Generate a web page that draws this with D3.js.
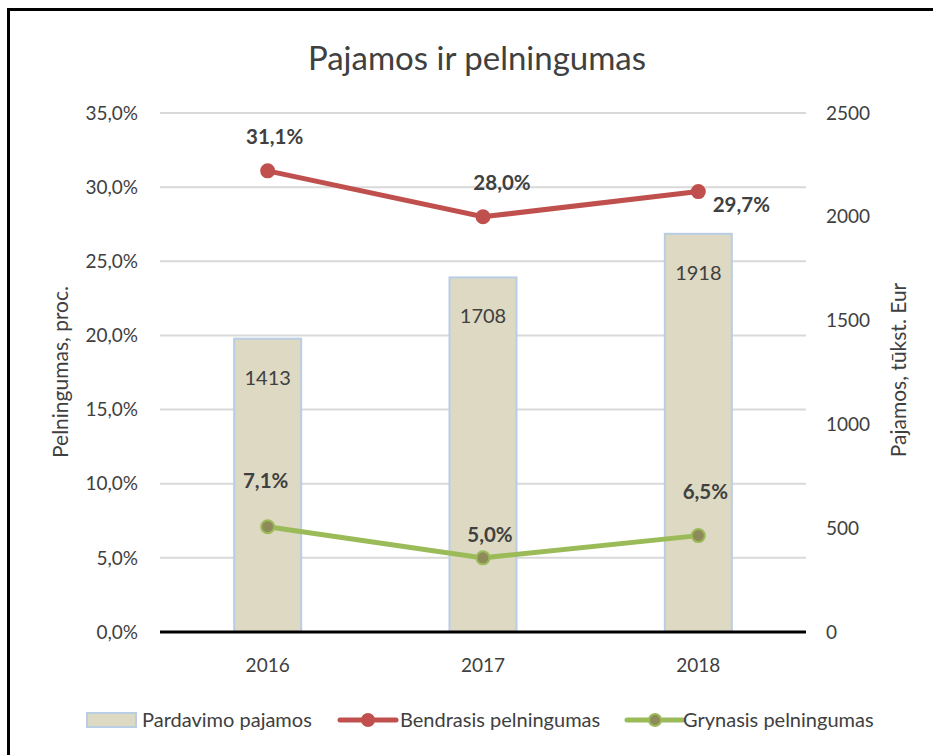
<!DOCTYPE html>
<html>
<head>
<meta charset="utf-8">
<script src="https://cdn.jsdelivr.net/npm/d3@7"></script>
<style>
  body { margin: 0; background: #fff; }
  text { font-family: Lato, "Open Sans", sans-serif; fill: #404040; }
</style>
</head>
<body>
<div id="chart"></div>
<script>
// chart data
var years = ['2016', '2017', '2018'];
var revenue = [1413, 1708, 1918];
var grossMargin = [31.1, 28.0, 29.7];
var netMargin = [7.1, 5.0, 6.5];
var leftTicks = [0, 5, 10, 15, 20, 25, 30, 35];
var rightTicks = [0, 500, 1000, 1500, 2000, 2500];
var legendLabels = ['Pardavimo pajamos', 'Bendrasis pelningumas', 'Grynasis pelningumas'];

var W = 933, H = 755;
var plotL = 160, plotR = 806, plotT = 113, plotB = 632;

var svg = d3.select('#chart').append('svg')
  .attr('width', W)
  .attr('height', H);

// outer frame (cut off at right and bottom like the screenshot)
svg.append('path')
  .attr('d', 'M8.5,' + H + ' V9.5 H' + W)
  .attr('fill', 'none')
  .attr('stroke', '#000')
  .attr('stroke-width', 3);

var x = d3.scaleBand().domain(years).range([plotL, plotR]);
var yPct = d3.scaleLinear().domain([0, 35]).range([plotB, plotT]);
var yRev = d3.scaleLinear().domain([0, 2500]).range([plotB, plotT]);

var fmtPct = function (v) { return d3.format('.1f')(v).replace('.', ',') + '%'; };

// gridlines
svg.append('g').selectAll('line').data(leftTicks.slice(1)).enter().append('line')
  .attr('x1', plotL).attr('x2', plotR)
  .attr('y1', function (d) { return yPct(d); })
  .attr('y2', function (d) { return yPct(d); })
  .attr('stroke', '#d9d9d9')
  .attr('stroke-width', 2);

// left axis labels
svg.append('g').selectAll('text').data(leftTicks).enter().append('text')
  .attr('x', 138)
  .attr('y', function (d) { return yPct(d); })
  .attr('dy', '0.35em')
  .attr('text-anchor', 'end')
  .style('font-size', '19px')
  .text(function (d) { return fmtPct(d); });

// right axis labels
svg.append('g').selectAll('text').data(rightTicks).enter().append('text')
  .attr('x', 826)
  .attr('y', function (d) { return yRev(d); })
  .attr('dy', '0.35em')
  .style('font-size', '19px')
  .text(function (d) { return d; });

// bars
var barW = 67;
svg.append('g').selectAll('rect').data(revenue).enter().append('rect')
  .attr('x', function (d, i) { return x(years[i]) + x.bandwidth() / 2 - barW / 2; })
  .attr('y', function (d) { return yRev(d); })
  .attr('width', barW)
  .attr('height', function (d) { return plotB - yRev(d); })
  .attr('fill', '#ddd9c3')
  .attr('stroke', '#b9cde5')
  .attr('stroke-width', 2);

svg.append('g').selectAll('text').data(revenue).enter().append('text')
  .attr('x', function (d, i) { return x(years[i]) + x.bandwidth() / 2; })
  .attr('y', function (d) { return yRev(d) + 39; })
  .attr('dy', '0.35em')
  .attr('text-anchor', 'middle')
  .style('font-size', '20px')
  .text(function (d) { return d; });

// baseline
svg.append('line')
  .attr('x1', plotL).attr('x2', plotR)
  .attr('y1', plotB).attr('y2', plotB)
  .attr('stroke', '#000')
  .attr('stroke-width', 3);

// x labels
svg.append('g').selectAll('text').data(years).enter().append('text')
  .attr('x', function (d) { return x(d) + x.bandwidth() / 2; })
  .attr('y', 665)
  .attr('dy', '0.35em')
  .attr('text-anchor', 'middle')
  .style('font-size', '19px')
  .text(function (d) { return d; });

var cx = function (d, i) { return x(years[i]) + x.bandwidth() / 2; };

function drawLine(values, color, markerFill, labelOffsets) {
  var line = d3.line()
    .x(function (d, i) { return cx(d, i); })
    .y(function (d) { return yPct(d); });
  svg.append('path').datum(values)
    .attr('d', line)
    .attr('fill', 'none')
    .attr('stroke', color)
    .attr('stroke-width', 5)
    .attr('stroke-linecap', 'round');
  svg.append('g').selectAll('circle').data(values).enter().append('circle')
    .attr('cx', cx)
    .attr('cy', function (d) { return yPct(d); })
    .attr('r', 6.5)
    .attr('fill', markerFill)
    .attr('stroke', color)
    .attr('stroke-width', 2);
  svg.append('g').selectAll('text').data(values).enter().append('text')
    .attr('x', function (d, i) { return cx(d, i) + labelOffsets[i][0]; })
    .attr('y', function (d, i) { return yPct(d) + labelOffsets[i][1]; })
    .attr('dy', '0.35em')
    .attr('text-anchor', 'middle')
    .style('font-size', '20.5px')
    .style('font-weight', 'bold')
    .text(function (d) { return fmtPct(d); });
}

drawLine(grossMargin, '#c0504d', '#c0504d', [[7, -34], [19, -34], [43, 13]]);
drawLine(netMargin, '#9bbb59', '#8f8a5a', [[-2, -46], [7, -23], [7, -44]]);

// title
svg.append('text')
  .attr('x', 477)
  .attr('y', 58)
  .attr('dy', '0.35em')
  .attr('text-anchor', 'middle')
  .style('font-size', '33px')
  .text('Pajamos ir pelningumas');

// axis titles
svg.append('text')
  .attr('transform', 'translate(61,372) rotate(-90)')
  .attr('dy', '0.35em')
  .attr('text-anchor', 'middle')
  .style('font-size', '21px')
  .text('Pelningumas, proc.');

svg.append('text')
  .attr('transform', 'translate(899,370) rotate(-90)')
  .attr('dy', '0.35em')
  .attr('text-anchor', 'middle')
  .style('font-size', '21px')
  .text('Pajamos, tūkst. Eur');

// legend
var lg = svg.append('g');
lg.append('rect')
  .attr('x', 87).attr('y', 713).attr('width', 49).attr('height', 14)
  .attr('fill', '#ddd9c3').attr('stroke', '#b9cde5').attr('stroke-width', 2);
lg.append('text').attr('x', 142).attr('y', 720).attr('dy', '0.35em')
  .style('font-size', '20px').text(legendLabels[0]);

[[340, '#c0504d', '#c0504d', legendLabels[1], 400], [627, '#9bbb59', '#8f8a5a', legendLabels[2], 683]].forEach(function (l) {
  lg.append('line')
    .attr('x1', l[0]).attr('x2', l[0] + 56)
    .attr('y1', 720).attr('y2', 720)
    .attr('stroke', l[1]).attr('stroke-width', 5).attr('stroke-linecap', 'round');
  lg.append('circle')
    .attr('cx', l[0] + 28).attr('cy', 720).attr('r', 6)
    .attr('fill', l[2]).attr('stroke', l[1]).attr('stroke-width', 2);
  lg.append('text').attr('x', l[4]).attr('y', 720).attr('dy', '0.35em')
    .style('font-size', '20px').text(l[3]);
});
</script>
</body>
</html>
